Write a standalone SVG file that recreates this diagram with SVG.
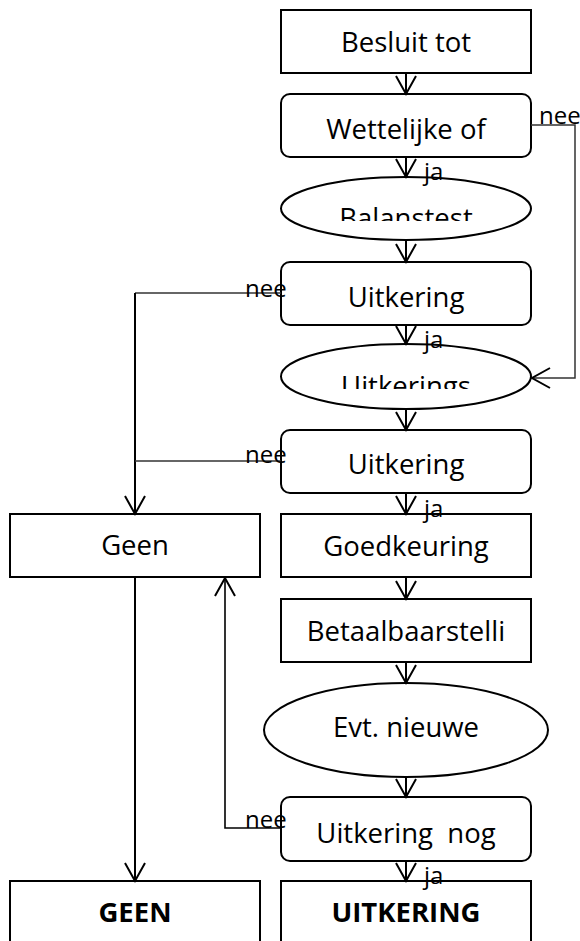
<svg xmlns="http://www.w3.org/2000/svg" width="580" height="941" viewBox="0 0 580 941">
<style>
.box{fill:#fff;stroke:#000;stroke-width:2}
.t{font-family:"Open Sans","DejaVu Sans",sans-serif;font-size:27.5px;fill:#000;text-anchor:middle}
.b{font-weight:bold}
.lbl{font-family:"Open Sans","DejaVu Sans",sans-serif;font-size:24px;fill:#000}
.c{fill:none;stroke:#000;stroke-width:2}
.thin{fill:none;stroke:#333;stroke-width:1.5}
</style>
<defs>
<marker id="ah" viewBox="-21 -12 24 24" markerWidth="24" markerHeight="24" refX="0" refY="0" markerUnits="userSpaceOnUse" orient="auto">
<path d="M-18,-10 L0,0 L-18,10" fill="none" stroke="#000" stroke-width="2"/>
</marker>
<clipPath id="clip1"><rect x="270" y="170" width="270" height="51"/></clipPath>
<clipPath id="clip2"><rect x="270" y="338" width="270" height="51"/></clipPath>
</defs>
<g id="n1"><rect class="box" x="281" y="10" width="250" height="63"/><text class="t" x="406" y="52">Besluit tot</text></g>
<g id="n2"><rect class="box" x="281" y="94" width="250" height="63" rx="9"/><text class="t" x="406" y="139">Wettelijke of</text></g>
<g id="n3"><ellipse class="box" cx="406" cy="208.5" rx="125" ry="31.5"/><text class="t" x="406" y="228" clip-path="url(#clip1)">Balanstest</text></g>
<g id="n4"><rect class="box" x="281" y="262" width="250" height="63" rx="9"/><text class="t" x="406" y="307">Uitkering</text></g>
<g id="n5"><ellipse class="box" cx="406" cy="376.5" rx="125" ry="32.5"/><text class="t" x="406" y="396" clip-path="url(#clip2)">Uitkerings</text></g>
<g id="n6"><rect class="box" x="281" y="430" width="250" height="63" rx="9"/><text class="t" x="406" y="474">Uitkering</text></g>
<g id="n7"><rect class="box" x="281" y="514" width="250" height="63"/><text class="t" x="406" y="556">Goedkeuring</text></g>
<g id="n8"><rect class="box" x="281" y="599" width="250" height="63"/><text class="t" x="406" y="641">Betaalbaarstelli</text></g>
<g id="n9"><ellipse class="box" cx="406" cy="730" rx="142" ry="47"/><text class="t" x="406" y="737">Evt. nieuwe</text></g>
<g id="n10"><rect class="box" x="281" y="797" width="250" height="64" rx="9"/><text class="t" x="406" y="843" style="white-space:pre">Uitkering  nog</text></g>
<g id="n11"><rect class="box" x="10" y="514" width="250" height="63"/><text class="t" x="135" y="555">Geen</text></g>
<g id="n12"><rect class="box" x="10" y="881" width="250" height="80"/><text class="t b" x="135" y="922">GEEN</text></g>
<g id="n13"><rect class="box" x="281" y="881" width="250" height="80"/><text class="t b" x="406" y="922">UITKERING</text></g>
<g id="connectors">
<line class="c" x1="406" y1="73" x2="406" y2="94" marker-end="url(#ah)"/>
<line class="c" x1="406" y1="157" x2="406" y2="177" marker-end="url(#ah)"/>
<line class="c" x1="406" y1="240" x2="406" y2="262" marker-end="url(#ah)"/>
<line class="c" x1="406" y1="325" x2="406" y2="344" marker-end="url(#ah)"/>
<line class="c" x1="406" y1="409" x2="406" y2="430" marker-end="url(#ah)"/>
<line class="c" x1="406" y1="493" x2="406" y2="514" marker-end="url(#ah)"/>
<line class="c" x1="406" y1="577" x2="406" y2="599" marker-end="url(#ah)"/>
<line class="c" x1="406" y1="662" x2="406" y2="683" marker-end="url(#ah)"/>
<line class="c" x1="406" y1="777" x2="406" y2="797" marker-end="url(#ah)"/>
<line class="c" x1="406" y1="861" x2="406" y2="881" marker-end="url(#ah)"/>
<polyline class="thin" points="531,125 575,125 575,378 532,378" marker-end="url(#ah)"/>
<line class="thin" x1="281" y1="293" x2="135" y2="293"/>
<line class="c" x1="135" y1="293" x2="135" y2="514" marker-end="url(#ah)"/>
<line class="thin" x1="281" y1="461" x2="135" y2="461"/>
<line class="c" x1="135" y1="577" x2="135" y2="881" marker-end="url(#ah)"/>
<polyline class="c" points="281,828 225,828 225,578" marker-end="url(#ah)" style="stroke-width:1.6"/>
</g>
<g id="labels">
<text class="lbl" x="539" y="124">nee</text>
<text class="lbl" x="424" y="180">ja</text>
<text class="lbl" x="245" y="297">nee</text>
<text class="lbl" x="424" y="348">ja</text>
<text class="lbl" x="245" y="463">nee</text>
<text class="lbl" x="424" y="517">ja</text>
<text class="lbl" x="245" y="828">nee</text>
<text class="lbl" x="424" y="884">ja</text>
</g>
</svg>
